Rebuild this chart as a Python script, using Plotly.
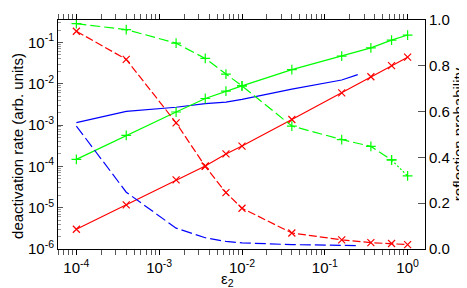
import plotly.graph_objects as go

# ---- data ----
eps2 = [1e-4, 4e-4, 1.6e-3, 3.6e-3, 6.4e-3, 1e-2, 4e-2, 0.16, 0.36, 0.64, 1.0]

# deactivation rate (left, log axis) - solid lines with markers
rate_red = [3.0e-6, 1.17e-5, 4.7e-5, 1.02e-4, 2.0e-4, 3.1e-4, 1.36e-3, 6.0e-3, 1.48e-2, 2.75e-2, 4.4e-2]
rate_green = [1.48e-4, 5.6e-4, 2.07e-3, 4.4e-3, 6.6e-3, 8.9e-3, 2.19e-2, 4.68e-2, 7.4e-2, 0.114, 0.151]

# reflection probability (right, linear axis) - dashed lines with markers
refl_red = [0.951, 0.828, 0.551, 0.361, 0.246, 0.178, 0.070, 0.040, 0.028, 0.024, 0.019]
refl_green = [0.984, 0.958, 0.899, 0.832, 0.764, 0.712, 0.537, 0.478, 0.448, 0.389, 0.319]

# blue curves (no markers)
eps2_blue = [1e-4, 4e-4, 1.6e-3, 3.6e-3, 6.4e-3, 1e-2, 4e-2, 0.16, 0.25]
rate_blue = [1.15e-3, 2.15e-3, 2.7e-3, 3.3e-3, 3.6e-3, 4.2e-3, 7.4e-3, 1.23e-2, 1.66e-2]
refl_blue = [0.537, 0.248, 0.091, 0.049, 0.033, 0.027, 0.019, 0.016, 0.015]

x_tickvals = [1e-4, 1e-3, 1e-2, 1e-1, 1.0]
x_ticktext = ["10<sup>-4</sup>", "10<sup>-3</sup>", "10<sup>-2</sup>", "10<sup>-1</sup>", "10<sup>0</sup>"]
y_tickvals = [1e-6, 1e-5, 1e-4, 1e-3, 1e-2, 1e-1]
y_ticktext = ["10<sup>-6</sup>", "10<sup>-5</sup>", "10<sup>-4</sup>", "10<sup>-3</sup>",
              "10<sup>-2</sup>", "10<sup>-1</sup>"]
y2_tickvals = [0.0, 0.2, 0.4, 0.6, 0.8, 1.0]

RED = "#ff0000"
GREEN = "#00ff00"
BLUE = "#0000ff"

x_minor = [m * 10.0 ** e for e in range(-5, 1) for m in range(2, 10)]
y_minor = [m * 10.0 ** e for e in range(-6, 0) for m in range(2, 10)]

fig = go.Figure()

# solid lines (left axis)
fig.add_trace(go.Scatter(x=eps2_blue, y=rate_blue, mode="lines",
                         line=dict(color=BLUE, width=1.2), yaxis="y"))
fig.add_trace(go.Scatter(x=eps2, y=rate_green, mode="lines+markers",
                         line=dict(color=GREEN, width=1.2),
                         marker=dict(symbol="cross-thin-open", size=7,
                                     line=dict(color=GREEN, width=1.2)), yaxis="y"))
fig.add_trace(go.Scatter(x=eps2, y=rate_red, mode="lines+markers",
                         line=dict(color=RED, width=1.2),
                         marker=dict(symbol="x-thin-open", size=7,
                                     line=dict(color=RED, width=1.2)), yaxis="y"))

# dashed lines (right axis)
fig.add_trace(go.Scatter(x=eps2_blue, y=refl_blue, mode="lines",
                         line=dict(color=BLUE, width=1.2, dash="11px,4px"), yaxis="y2"))
fig.add_trace(go.Scatter(x=eps2[:-1], y=refl_green[:-1], mode="lines+markers",
                         line=dict(color=GREEN, width=1.2, dash="10px,4px"),
                         marker=dict(symbol="cross-thin-open", size=7,
                                     line=dict(color=GREEN, width=1.2)), yaxis="y2"))
fig.add_trace(go.Scatter(x=eps2[-2:], y=refl_green[-2:], mode="lines+markers",
                         line=dict(color=GREEN, width=1.2, dash="2px,2px"),
                         marker=dict(symbol="cross-thin-open", size=7,
                                     line=dict(color=GREEN, width=1.2)), yaxis="y2"))
fig.add_trace(go.Scatter(x=eps2, y=refl_red, mode="lines+markers",
                         line=dict(color=RED, width=1.2, dash="8px,3px"),
                         marker=dict(symbol="x-thin-open", size=7,
                                     line=dict(color=RED, width=1.2)), yaxis="y2"))

fig.update_layout(
    width=467, height=288,
    margin=dict(l=50, r=50, t=3, b=47),
    paper_bgcolor="white", plot_bgcolor="white",
    showlegend=False,
    font=dict(family="Liberation Sans, Arial, sans-serif", size=15, color="black"),
    xaxis=dict(type="log", range=[-4.222, 0.21],
               tickmode="array", tickvals=x_tickvals, ticktext=x_ticktext,
               ticks="outside", ticklen=5, tickcolor="black",
               mirror="allticks", showline=True, linecolor="black", linewidth=1,
               showgrid=False, zeroline=False,
               minor=dict(tickmode="array", tickvals=x_minor, ticks="outside",
                          ticklen=3, tickcolor="#555", showgrid=False)),
    yaxis=dict(type="log", range=[-6, -0.457],
               tickmode="array", tickvals=y_tickvals, ticktext=y_ticktext,
               ticks="inside", ticklen=5, tickcolor="#555",
               showline=True, linecolor="black", linewidth=1,
               showgrid=False, zeroline=False,
               minor=dict(tickmode="array", tickvals=y_minor, ticks="inside",
                          ticklen=3, tickcolor="#999", showgrid=False)),
    yaxis2=dict(overlaying="y", side="right", range=[0, 1.0],
                tickmode="array", tickvals=y2_tickvals, tickformat=".1f",
                ticks="inside", ticklen=7, tickcolor="#555",
                showline=True, linecolor="black", linewidth=1,
                showgrid=False, zeroline=False,
                title=dict(text="reflection probability", standoff=1,
                           font=dict(size=15))),
    annotations=[
        dict(text="ε<sub>2</sub>", xref="paper", yref="paper",
             x=0.4626, y=-0.135, xanchor="center", yanchor="middle",
             showarrow=False, font=dict(size=15)),
        dict(text="deactivation rate (arb. units)", xref="paper", yref="paper",
             x=-0.109, y=0.45, xanchor="center", yanchor="middle", textangle=-90,
             showarrow=False, font=dict(size=15)),
    ],
)

fig.write_html("out.html")
